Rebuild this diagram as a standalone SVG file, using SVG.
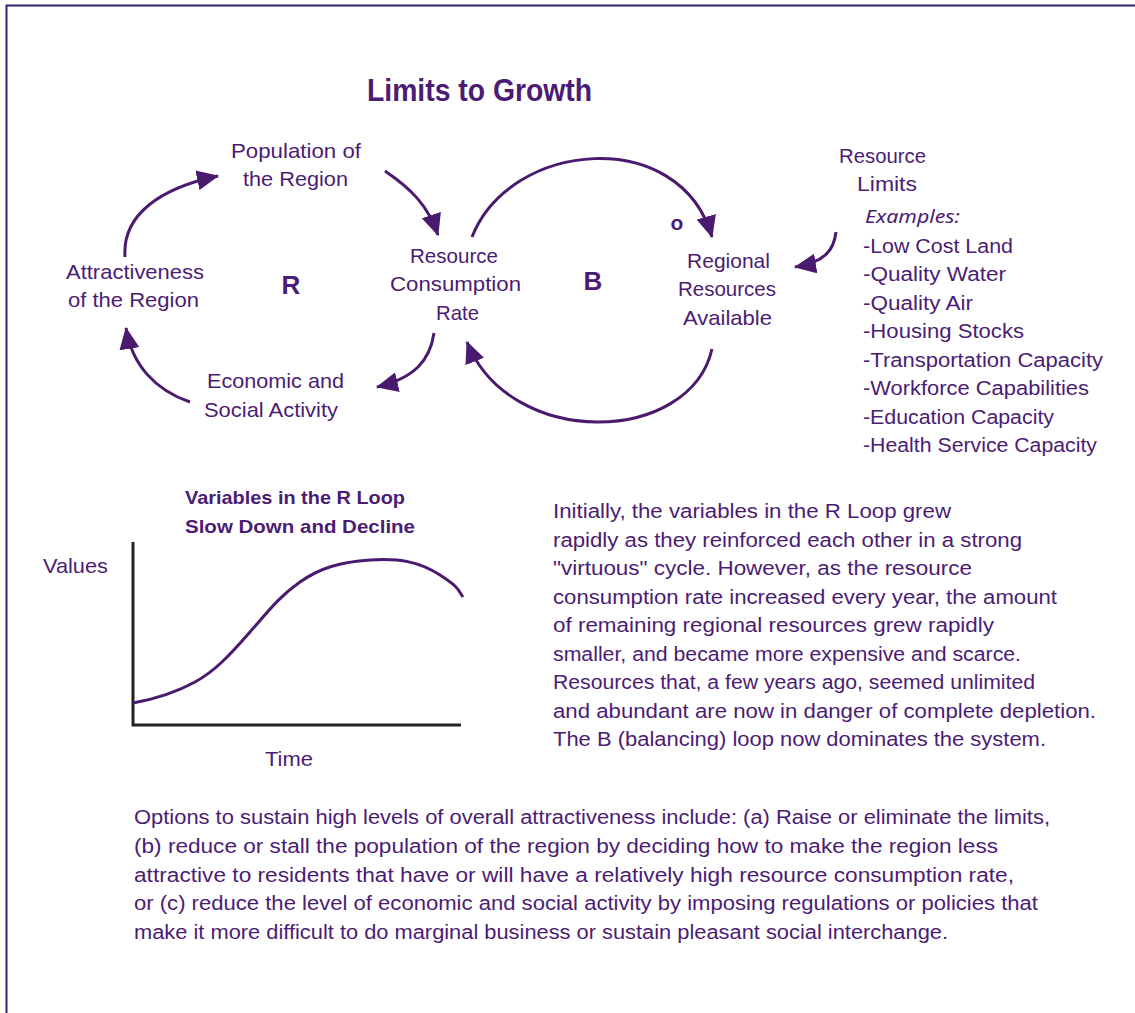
<svg xmlns="http://www.w3.org/2000/svg" width="1135" height="1013" viewBox="0 0 1135 1013">
<defs>
<style>
text{font-family:"Liberation Sans",Arial,sans-serif;fill:#4b1c74;font-size:20px}
.l{font-size:21px}
.c{text-anchor:middle}
.b{font-weight:bold}
.ex{font-family:"Noto Sans","DejaVu Sans",sans-serif;font-style:italic;font-size:18px}
.arr{fill:none;stroke:#4a1a6e;stroke-width:3}
.ax{fill:none;stroke:#222;stroke-width:3}
</style>
<marker id="ah" viewBox="0 0 22 20" refX="21" refY="10" markerWidth="22" markerHeight="20" markerUnits="userSpaceOnUse" orient="auto">
<path d="M0,0 L22,10 L0,20 z" fill="#4a1a6e"/>
</marker>
</defs>
<rect width="1135" height="1013" fill="#fff"/>
<path d="M6.5,1013 V5.5 H1135" fill="none" stroke="#2d2370" stroke-width="2"/>
<text class="b" x="367" y="101" textLength="225" lengthAdjust="spacingAndGlyphs" style="font-size:31px">Limits to Growth</text>

<g id="population"><text class="l" x="231" y="158" textLength="130" lengthAdjust="spacingAndGlyphs">Population of</text><text class="l" x="243" y="186" textLength="105" lengthAdjust="spacingAndGlyphs">the Region</text></g>
<g id="attractiveness"><text class="l" x="66" y="279" textLength="138" lengthAdjust="spacingAndGlyphs">Attractiveness</text><text class="l" x="68" y="307" textLength="131" lengthAdjust="spacingAndGlyphs">of the Region</text></g>
<g id="loopR"><text class="c b" x="291" y="294" style="font-size:26px">R</text></g>
<g id="consumption"><text class="l" x="410" y="263" textLength="88" lengthAdjust="spacingAndGlyphs">Resource</text><text class="l" x="390" y="291" textLength="131" lengthAdjust="spacingAndGlyphs">Consumption</text><text class="l" x="436" y="320" textLength="43" lengthAdjust="spacingAndGlyphs">Rate</text></g>
<g id="loopB"><text class="c b" x="593" y="290" style="font-size:26px">B</text><text class="c b" x="677" y="230" style="font-size:21px">o</text></g>
<g id="regional"><text class="l" x="687" y="268" textLength="83" lengthAdjust="spacingAndGlyphs">Regional</text><text class="l" x="678" y="296" textLength="98" lengthAdjust="spacingAndGlyphs">Resources</text><text class="l" x="683" y="325" textLength="89" lengthAdjust="spacingAndGlyphs">Available</text></g>
<g id="economic"><text class="l" x="207" y="388" textLength="137" lengthAdjust="spacingAndGlyphs">Economic and</text><text class="l" x="204" y="417" textLength="134" lengthAdjust="spacingAndGlyphs">Social Activity</text></g>
<g id="limits">
<text class="l" x="839" y="163" textLength="87" lengthAdjust="spacingAndGlyphs">Resource</text><text class="l" x="857" y="191" textLength="60" lengthAdjust="spacingAndGlyphs">Limits</text>
<text class="ex" x="865" y="223" textLength="95" lengthAdjust="spacingAndGlyphs">Examples:</text>
<text x="863" y="253" textLength="150" lengthAdjust="spacingAndGlyphs">-Low Cost Land</text>
<text x="863" y="281" textLength="143" lengthAdjust="spacingAndGlyphs">-Quality Water</text>
<text x="863" y="310" textLength="110" lengthAdjust="spacingAndGlyphs">-Quality Air</text>
<text x="863" y="338" textLength="161" lengthAdjust="spacingAndGlyphs">-Housing Stocks</text>
<text x="863" y="367" textLength="240" lengthAdjust="spacingAndGlyphs">-Transportation Capacity</text>
<text x="863" y="395" textLength="226" lengthAdjust="spacingAndGlyphs">-Workforce Capabilities</text>
<text x="863" y="424" textLength="191" lengthAdjust="spacingAndGlyphs">-Education Capacity</text>
<text x="863" y="452" textLength="234" lengthAdjust="spacingAndGlyphs">-Health Service Capacity</text>
</g>

<g id="connectors">
<path class="arr" marker-end="url(#ah)" d="M125,257 C122,215 160,188 218,176"/>
<path class="arr" marker-end="url(#ah)" d="M385,171 C410,188 428,205 438,235"/>
<path class="arr" marker-end="url(#ah)" d="M434,333 C430,360 415,378 377,387"/>
<path class="arr" marker-end="url(#ah)" d="M190,402 C155,390 132,365 126,328"/>
<path class="arr" marker-end="url(#ah)" d="M472,237 C510,140 680,125 712,237"/>
<path class="arr" marker-end="url(#ah)" d="M712,349 C690,445 510,450 467,342"/>
<path class="arr" marker-end="url(#ah)" d="M836,232 C834,250 825,262 795,267"/>
</g>

<g id="chart">
<text class="b" x="185" y="504" textLength="220" lengthAdjust="spacingAndGlyphs" style="font-size:19px">Variables in the R Loop</text>
<text class="b" x="185" y="533" textLength="230" lengthAdjust="spacingAndGlyphs" style="font-size:19px">Slow Down and Decline</text>
<text class="l" x="43" y="573" textLength="65" lengthAdjust="spacingAndGlyphs">Values</text>
<text class="l" x="265" y="766" textLength="48" lengthAdjust="spacingAndGlyphs">Time</text>
<path class="ax" d="M133,542 V725 H461"/>
<path class="arr" d="M133,703 C155,699 175,693 195,682 S230,655 250,632 S280,596 300,582 S340,562 370,560 S420,562 440,575 S458,590 463,597"/>
</g>

<g id="explanation">
<text x="553" y="518" textLength="398" lengthAdjust="spacingAndGlyphs">Initially, the variables in the R Loop grew</text>
<text x="553" y="547" textLength="469" lengthAdjust="spacingAndGlyphs">rapidly as they reinforced each other in a strong</text>
<text x="553" y="575" textLength="419" lengthAdjust="spacingAndGlyphs">"virtuous" cycle.  However, as the resource</text>
<text x="553" y="604" textLength="504" lengthAdjust="spacingAndGlyphs">consumption rate increased every year, the amount</text>
<text x="553" y="632" textLength="441" lengthAdjust="spacingAndGlyphs">of remaining regional resources grew rapidly</text>
<text x="553" y="661" textLength="468" lengthAdjust="spacingAndGlyphs">smaller, and became more expensive and scarce.</text>
<text x="553" y="689" textLength="482" lengthAdjust="spacingAndGlyphs">Resources that, a few years ago, seemed unlimited</text>
<text x="553" y="718" textLength="543" lengthAdjust="spacingAndGlyphs">and abundant are now in danger of complete depletion.</text>
<text x="553" y="746" textLength="493" lengthAdjust="spacingAndGlyphs">The B (balancing) loop now dominates the system.</text>
</g>

<g id="options">
<text x="134" y="824" textLength="916" lengthAdjust="spacingAndGlyphs">Options to sustain high levels of overall attractiveness include: (a) Raise or eliminate the limits,</text>
<text x="134" y="853" textLength="864" lengthAdjust="spacingAndGlyphs">(b) reduce or stall the population of the region by deciding how to make the region less</text>
<text x="134" y="882" textLength="880" lengthAdjust="spacingAndGlyphs">attractive to residents that have or will have a relatively high resource consumption rate,</text>
<text x="134" y="910" textLength="904" lengthAdjust="spacingAndGlyphs">or (c) reduce the level of economic and social activity by imposing regulations or policies that</text>
<text x="134" y="939" textLength="814" lengthAdjust="spacingAndGlyphs">make it more difficult to do marginal business or sustain pleasant social interchange.</text>
</g>
</svg>
